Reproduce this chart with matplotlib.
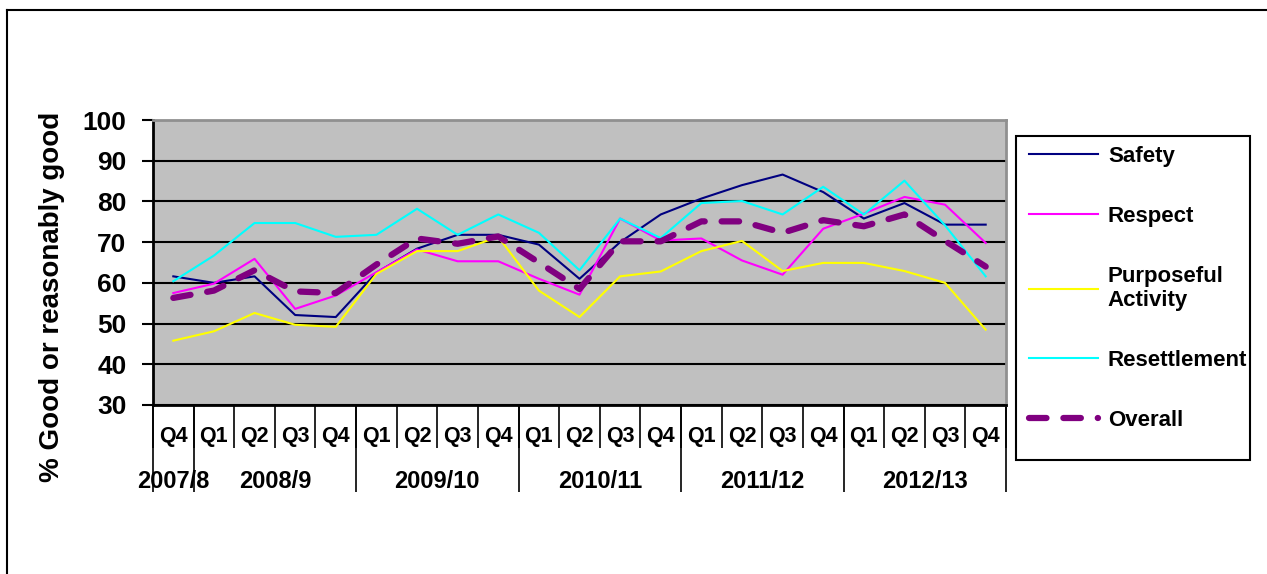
import matplotlib.pyplot as plt
from matplotlib.lines import Line2D
from matplotlib.patches import Rectangle

plt.rcParams['font.family'] = ['Liberation Sans', 'DejaVu Sans']
plt.rcParams['font.weight'] = 'bold'

# Datos
quarters = ['Q4', 'Q1', 'Q2', 'Q3', 'Q4', 'Q1', 'Q2', 'Q3', 'Q4', 'Q1', 'Q2',
            'Q3', 'Q4', 'Q1', 'Q2', 'Q3', 'Q4', 'Q1', 'Q2', 'Q3', 'Q4']
years = ['2007/8', '2008/9', '2009/10', '2010/11', '2011/12', '2012/13']
year_sizes = [1, 4, 4, 4, 4, 4]

safety = [61.6, 60.0, 61.6, 52.1, 51.6, 62.5, 68.4, 71.8, 71.8, 69.4, 61.0,
          70.0, 76.8, 80.7, 84.0, 86.6, 82.3, 75.8, 79.6, 74.3, 74.3]
respect = [57.5, 59.8, 65.9, 53.6, 56.9, 62.6, 68.2, 65.3, 65.3, 61.0, 57.1,
           75.8, 70.4, 70.9, 65.5, 62.0, 73.3, 77.0, 81.1, 79.2, 69.8]
purposeful = [45.8, 48.1, 52.6, 49.7, 49.2, 62.2, 67.8, 67.8, 71.3, 58.1, 51.6,
              61.6, 62.8, 67.8, 70.3, 62.9, 64.9, 64.9, 62.9, 60.0, 48.5]
resettlement = [60.4, 66.7, 74.7, 74.7, 71.3, 71.8, 78.2, 71.8, 76.8, 72.3, 63.1,
                75.8, 71.0, 79.6, 80.1, 76.8, 83.6, 76.8, 85.1, 74.1, 61.6]
overall = [56.3, 58.1, 63.1, 57.9, 57.5, 64.5, 70.9, 69.6, 71.4, 65.0, 58.5,
           70.2, 70.2, 75.1, 75.1, 72.3, 75.4, 73.9, 76.8, 70.3, 64.0]

W, H = 1267, 574
fig = plt.figure(figsize=(W / 100, H / 100), dpi=100)
ax = fig.add_axes([153 / W, 1 - 405 / H, (1006 - 153) / W, (405 - 120) / H])
ax.set_facecolor('#C0C0C0')

x = list(range(len(quarters)))
ax.plot(x, safety, color='#000080', lw=1.5, label='Safety')
ax.plot(x, respect, color='#FF00FF', lw=1.5, label='Respect')
ax.plot(x, purposeful, color='#FFFF00', lw=1.5, label='Purposeful\nActivity')
ax.plot(x, resettlement, color='#00FFFF', lw=1.5, label='Resettlement')
ax.plot(x, overall, color='#800080', lw=4.5, ls=(0, (2.8, 2.7)),
        dash_capstyle='round', label='Overall')

ax.set_xlim(-0.5, len(quarters) - 0.5)
ax.set_ylim(30, 100)
ax.set_yticks(range(30, 101, 10))
ax.yaxis.grid(True, color='black', lw=1.5)
ax.set_axisbelow(True)
ax.tick_params(axis='y', length=8, width=1.5, labelsize=19, pad=11)
ax.set_xticks([])

for s in ['left', 'bottom']:
    ax.spines[s].set_color('black')
    ax.spines[s].set_linewidth(2)
for s in ['top', 'right']:
    ax.spines[s].set_color('#909090')
    ax.spines[s].set_linewidth(2)

# eje de categorías con dos niveles
tr = ax.get_xaxis_transform()
for i, q in enumerate(quarters):
    ax.text(i, -0.112, q, transform=tr, ha='center', va='center', fontsize=15.5)
ax.vlines([i - 0.5 for i in range(len(quarters) + 1)], -0.151, 0,
          transform=tr, color='black', lw=1.2, clip_on=False)
start = 0
bounds = [-0.5]
for y, n in zip(years, year_sizes):
    ax.text(start + (n - 1) / 2, -0.267, y, transform=tr, ha='center',
            va='center', fontsize=17)
    start += n
    bounds.append(start - 0.5)
ax.vlines(bounds, -0.305, 0, transform=tr, color='black', lw=1.2, clip_on=False)

fig.text(52 / W, 1 - 297 / H, '% Good or reasonably good', rotation=90,
         ha='center', va='center', fontsize=20)

# leyenda
fig.patches.append(Rectangle((1016 / W, 1 - 460 / H), (1250 - 1016) / W,
                             (460 - 136) / H, transform=fig.transFigure,
                             fill=False, edgecolor='black', lw=1.5))
fig.legend(loc='upper left', bbox_to_anchor=(1029 / W, 1 - 146 / H),
           frameon=False, fontsize=16, handlelength=3.1, handletextpad=0.45,
           labelspacing=1.75, borderaxespad=0, borderpad=0)

# borde exterior
fig.add_artist(Line2D([7 / W, 7 / W], [0, 1 - 10 / H], transform=fig.transFigure,
                      color='black', lw=1.5))
fig.add_artist(Line2D([7 / W, 1], [1 - 10 / H, 1 - 10 / H],
                      transform=fig.transFigure, color='black', lw=1.5))

plt.savefig('out.png', dpi=100)
